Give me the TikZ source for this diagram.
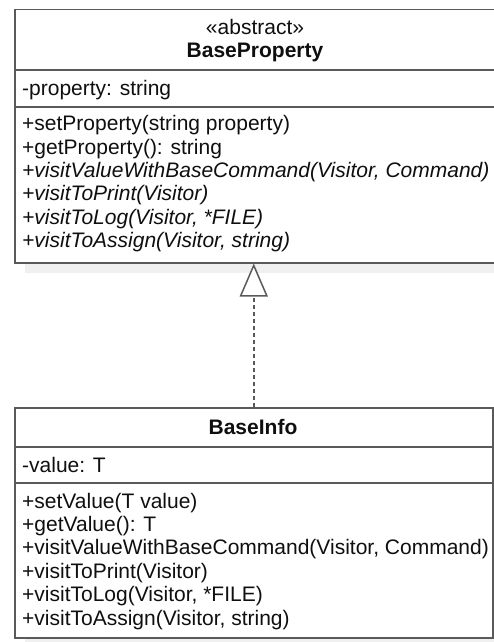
\documentclass[tikz,border=0pt]{standalone}
\usepackage{fontspec}
\setmainfont{Liberation Sans}
\usetikzlibrary{arrows.meta}
\definecolor{linec}{RGB}{90,90,90}
\definecolor{shadowc}{RGB}{240,240,240}
\definecolor{txtc}{RGB}{15,15,15}
\newcommand{\fsz}{\fontsize{21pt}{23.4pt}\selectfont}
\tikzset{
  umlbox/.style={draw=linec, line width=1.5pt, fill=white, inner sep=0pt, anchor=north west},
  sepline/.style={draw=linec, line width=1.5pt},
  member/.style={anchor=base west, inner sep=0pt, font=\fsz, text=txtc},
  title/.style={anchor=base, inner sep=0pt, font=\fsz, text=txtc},
  realize/.style={draw=linec, line width=1.5pt, dash pattern=on 4pt off 3pt,
    -{Triangle[open, length=33pt, width=28pt, fill=white, line width=1.5pt, sep=0pt]}}
}
\begin{document}
\begin{tikzpicture}[x=1pt,y=-1pt]
\useasboundingbox (0,0) rectangle (493,642);
% shadows
\fill[shadowc] (25,20) rectangle (507,273);
\fill[shadowc] (25,418) rectangle (503,648);
% BaseProperty box
\node[umlbox, minimum width=482pt, minimum height=253pt] (bp) at (14,9) {};
\draw[sepline] (bp.west |- 0,70) -- (bp.east |- 0,70);
\draw[sepline] (bp.west |- 0,107) -- (bp.east |- 0,107);
\node[title] (bp-st) at (255,35) {«abstract»};
\node[title, font=\fsz\bfseries] (bp-name) at (255,58) {BaseProperty};
\node[member] (bp-a1) at (22,95) {-property: string};
\node[member] (bp-m1) at (22,130) {+setProperty(string property)};
\node[member] (bp-m2) at (22,154) {+getProperty(): string};
\node[member, font=\fsz\itshape] (bp-m3) at (22,177) {+visitValueWithBaseCommand(Visitor, Command)};
\node[member, font=\fsz\itshape] (bp-m4) at (22,200) {+visitToPrint(Visitor)};
\node[member, font=\fsz\itshape] (bp-m5) at (22,224) {+visitToLog(Visitor, *FILE)};
\node[member, font=\fsz\itshape] (bp-m6) at (22,247) {+visitToAssign(Visitor, string)};
% BaseInfo box
\node[umlbox, minimum width=478pt, minimum height=230pt] (bi) at (14,407) {};
\draw[sepline] (bi.west |- 0,447) -- (bi.east |- 0,447);
\draw[sepline] (bi.west |- 0,483) -- (bi.east |- 0,483);
\node[title, font=\fsz\bfseries] (bi-name) at (253,434) {BaseInfo};
\node[member] (bi-a1) at (22,472) {-value: T};
\node[member] (bi-m1) at (22,508) {+setValue(T value)};
\node[member] (bi-m2) at (22,531.4) {+getValue(): T};
\node[member] (bi-m3) at (22,554.8) {+visitValueWithBaseCommand(Visitor, Command)};
\node[member] (bi-m4) at (22,578.2) {+visitToPrint(Visitor)};
\node[member] (bi-m5) at (22,601.6) {+visitToLog(Visitor, *FILE)};
\node[member] (bi-m6) at (22,625) {+visitToAssign(Visitor, string)};
% realization
\draw[realize] (bi.north) -- (bi.north |- bp.south);
\end{tikzpicture}
\end{document}
